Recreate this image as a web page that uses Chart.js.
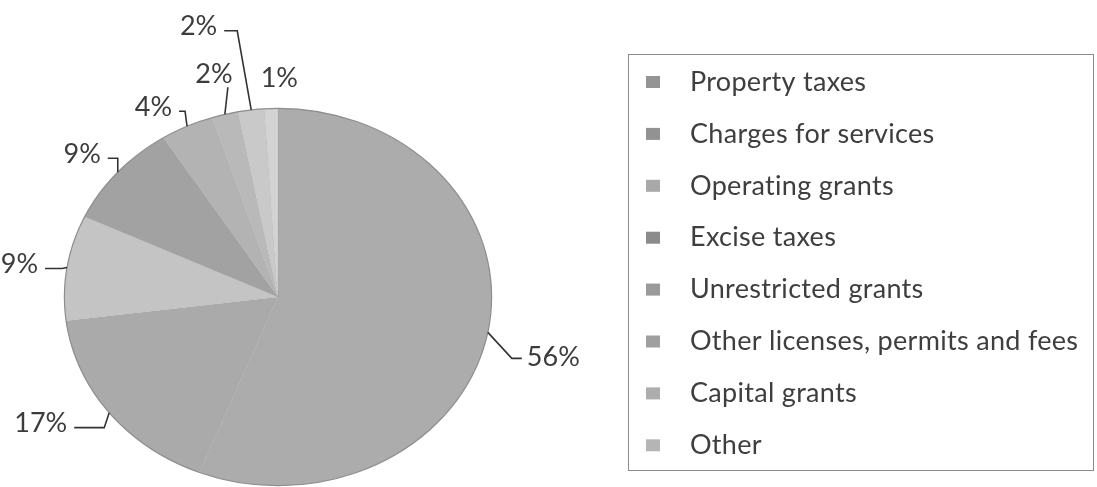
<!DOCTYPE html>
<html>
<head>
<meta charset="utf-8">
<script src="https://cdn.jsdelivr.net/npm/chart.js@4/dist/chart.umd.min.js"></script>
<style>
  html, body { margin: 0; padding: 0; background: #fff; }
  #wrap { width: 1097px; height: 487px; position: relative; }
</style>
</head>
<body>
<div id="wrap"><canvas id="revenue"></canvas></div>
<script>
// revenue sources, share of total (%)
var categories = [
  "Property taxes",
  "Charges for services",
  "Operating grants",
  "Excise taxes",
  "Unrestricted grants",
  "Other licenses, permits and fees",
  "Capital grants",
  "Other"
];
var shares = [56, 17, 9, 9, 4, 2, 2, 1];
var shareLabels = ["56%", "17%", "9%", "9%", "4%", "2%", "2%", "1%"];

var sliceColors = ["#acacac", "#aaaaaa", "#c4c4c4", "#a2a2a2", "#b3b3b3", "#b9b9b9", "#c9c9c9", "#d3d3d3"];

// pie is drawn a bit wider than tall
var stretchX = 1.132;
var font = "Lato, 'Open Sans', sans-serif";

// leader lines: knee offset from the slice edge, then a horizontal run
var leaders = [
  { kx: 24, ky: 26, h: 10 },
  { kx: -5, ky: 15, h: -30 },
  { kx: -5, ky: 1, h: -17 },
  { kx: 0, ky: -14, h: -10 },
  { kx: -2, ky: -15, h: -6 },
  { kx: 3, ky: -27, h: 0, tx: -14 },
  { kx: -14, ky: -79, h: -13 },
  { kx: 8, ky: -17, h: 0, noLine: true }
];

function darker(hex, f) {
  var v = Math.round(parseInt(hex.slice(1, 3), 16) * f);
  return "rgb(" + v + "," + v + "," + v + ")";
}

var ellipsePie = {
  id: "ellipsePie",
  beforeDatasetsDraw: function (chart) {
    var arc = chart.getDatasetMeta(0).data[0];
    var ctx = chart.ctx;
    ctx.save();
    ctx.translate(arc.x, arc.y);
    ctx.scale(stretchX, 1);
    ctx.translate(-arc.x, -arc.y);
  },
  afterDatasetsDraw: function (chart) {
    var ctx = chart.ctx;
    var arcs = chart.getDatasetMeta(0).data;
    ctx.restore();

    // outline
    var a0 = arcs[0];
    ctx.save();
    ctx.beginPath();
    ctx.ellipse(a0.x, a0.y, a0.outerRadius * stretchX, a0.outerRadius, 0, 0, Math.PI * 2);
    ctx.strokeStyle = "#8e8e8e";
    ctx.lineWidth = 1.2;
    ctx.stroke();
    ctx.restore();

    // percentage labels
    ctx.save();
    ctx.font = "27px " + font;
    ctx.fillStyle = "#3c3c3c";
    ctx.strokeStyle = "#333";
    ctx.lineWidth = 1.6;
    ctx.textBaseline = "middle";
    arcs.forEach(function (arc, i) {
      var mid = (arc.startAngle + arc.endAngle) / 2;
      var ex = arc.x + Math.cos(mid) * arc.outerRadius * stretchX;
      var ey = arc.y + Math.sin(mid) * arc.outerRadius;
      var L = leaders[i];
      var kx = ex + L.kx, ky = ey + L.ky;
      var tx = kx + L.h;
      if (!L.noLine) {
        ctx.beginPath();
        ctx.moveTo(ex, ey);
        ctx.lineTo(kx, ky);
        ctx.lineTo(tx, ky);
        ctx.stroke();
      }
      if (L.h > 0) {
        ctx.textAlign = "left";
        ctx.fillText(shareLabels[i], tx + 5, ky - 1);
      } else if (L.h < 0) {
        ctx.textAlign = "right";
        ctx.fillText(shareLabels[i], tx - 7, ky - 4);
      } else {
        ctx.textAlign = "center";
        ctx.fillText(shareLabels[i], tx + (L.tx || 0), ky - 13);
      }
    });
    ctx.restore();
  },
  afterDraw: function (chart) {
    // boxed legend on the right
    var ctx = chart.ctx;
    var colors = chart.data.datasets[0].backgroundColor;
    ctx.save();
    ctx.strokeStyle = "#8c8c8c";
    ctx.lineWidth = 1;
    ctx.strokeRect(628.5, 54.5, 465, 416);
    ctx.font = "27px " + font;
    ctx.letterSpacing = "0.3px";
    ctx.textAlign = "left";
    ctx.textBaseline = "middle";
    chart.data.labels.forEach(function (label, i) {
      var y = 82 + i * 51.9;
      ctx.fillStyle = darker(colors[i], 0.86);
      ctx.fillRect(646, y - 6, 14, 12);
      ctx.fillStyle = "#3e3e3e";
      ctx.fillText(label, 690, y);
    });
    ctx.restore();
  }
};

new Chart(document.getElementById("revenue"), {
  type: "pie",
  data: {
    labels: categories,
    datasets: [{
      data: shares,
      backgroundColor: sliceColors,
      borderColor: "rgba(140,140,140,0.15)",
      borderWidth: 0.6
    }]
  },
  options: {
    responsive: true,
    maintainAspectRatio: false,
    animation: false,
    layout: { padding: { left: 89, right: 630, top: 108, bottom: 1 } },
    plugins: {
      legend: { display: false },
      tooltip: { enabled: false }
    }
  },
  plugins: [ellipsePie]
});
</script>
</body>
</html>
